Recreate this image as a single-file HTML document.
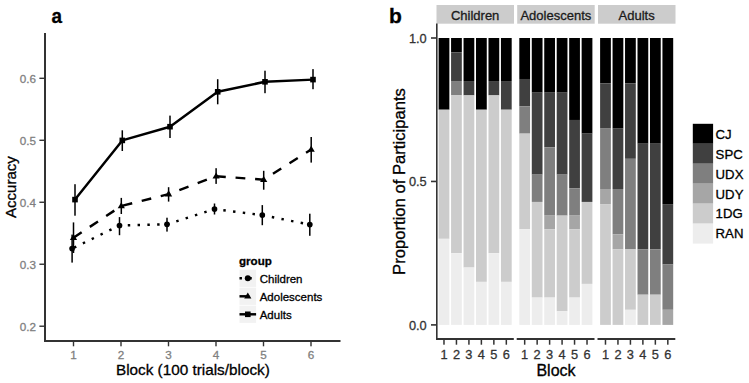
<!DOCTYPE html>
<html><head><meta charset="utf-8"><style>
html,body{margin:0;padding:0;background:#fff;width:749px;height:383px;overflow:hidden;}
body{position:relative;font-family:"Liberation Sans", sans-serif;}

</style></head><body>
<svg width="749" height="383" viewBox="0 0 749 383" style="position:absolute;left:0;top:0">
<rect width="749" height="383" fill="#fff"/>
<g>
<text transform="translate(51.6,23.2) scale(0.9,1)" x="0" y="0" font-family='"Liberation Sans", sans-serif' font-weight="bold" font-size="21" fill="#000" stroke="#000" stroke-width="0.3">a</text>
<rect x="44" y="33" width="2" height="309" fill="#333333"/>
<rect x="44" y="340" width="296.5" height="2" fill="#333333"/>
<rect x="39.4" y="325.52" width="4.8" height="1.4" fill="#333333"/>
<text x="36.1" y="330.92" text-anchor="end" font-family='"Liberation Sans", sans-serif' font-size="11.7" fill="#7f7f7f" stroke="#7f7f7f" stroke-width="0.3">0.2</text>
<rect x="39.4" y="263.54" width="4.8" height="1.4" fill="#333333"/>
<text x="36.1" y="268.94" text-anchor="end" font-family='"Liberation Sans", sans-serif' font-size="11.7" fill="#7f7f7f" stroke="#7f7f7f" stroke-width="0.3">0.3</text>
<rect x="39.4" y="201.56" width="4.8" height="1.4" fill="#333333"/>
<text x="36.1" y="206.96" text-anchor="end" font-family='"Liberation Sans", sans-serif' font-size="11.7" fill="#7f7f7f" stroke="#7f7f7f" stroke-width="0.3">0.4</text>
<rect x="39.4" y="139.58" width="4.8" height="1.4" fill="#333333"/>
<text x="36.1" y="144.98" text-anchor="end" font-family='"Liberation Sans", sans-serif' font-size="11.7" fill="#7f7f7f" stroke="#7f7f7f" stroke-width="0.3">0.5</text>
<rect x="39.4" y="77.60" width="4.8" height="1.4" fill="#333333"/>
<text x="36.1" y="83.00" text-anchor="end" font-family='"Liberation Sans", sans-serif' font-size="11.7" fill="#7f7f7f" stroke="#7f7f7f" stroke-width="0.3">0.6</text>
<rect x="72.80" y="342" width="1.4" height="4.3" fill="#333333"/>
<text x="73.50" y="358.7" text-anchor="middle" font-family='"Liberation Sans", sans-serif' font-size="11.7" fill="#7f7f7f" stroke="#7f7f7f" stroke-width="0.3">1</text>
<rect x="120.30" y="342" width="1.4" height="4.3" fill="#333333"/>
<text x="121.00" y="358.7" text-anchor="middle" font-family='"Liberation Sans", sans-serif' font-size="11.7" fill="#7f7f7f" stroke="#7f7f7f" stroke-width="0.3">2</text>
<rect x="167.80" y="342" width="1.4" height="4.3" fill="#333333"/>
<text x="168.50" y="358.7" text-anchor="middle" font-family='"Liberation Sans", sans-serif' font-size="11.7" fill="#7f7f7f" stroke="#7f7f7f" stroke-width="0.3">3</text>
<rect x="215.30" y="342" width="1.4" height="4.3" fill="#333333"/>
<text x="216.00" y="358.7" text-anchor="middle" font-family='"Liberation Sans", sans-serif' font-size="11.7" fill="#7f7f7f" stroke="#7f7f7f" stroke-width="0.3">4</text>
<rect x="262.80" y="342" width="1.4" height="4.3" fill="#333333"/>
<text x="263.50" y="358.7" text-anchor="middle" font-family='"Liberation Sans", sans-serif' font-size="11.7" fill="#7f7f7f" stroke="#7f7f7f" stroke-width="0.3">5</text>
<rect x="310.30" y="342" width="1.4" height="4.3" fill="#333333"/>
<text x="311.00" y="358.7" text-anchor="middle" font-family='"Liberation Sans", sans-serif' font-size="11.7" fill="#7f7f7f" stroke="#7f7f7f" stroke-width="0.3">6</text>
<text x="192.9" y="374.6" text-anchor="middle" font-family='"Liberation Sans", sans-serif' font-size="15.3" fill="#000" stroke="#000" stroke-width="0.3">Block (100 trials/block)</text>
<text transform="translate(16.4,187.1) rotate(-90)" x="0" y="0" text-anchor="middle" font-family='"Liberation Sans", sans-serif' font-size="15.05" fill="#000" stroke="#000" stroke-width="0.3">Accuracy</text>
<polyline points="75,199.6 122.3,140.4 170,126.7 217.7,91.8 265,81.8 313,79.6" fill="none" stroke="#000" stroke-width="2.45" stroke-linejoin="round"/>
<polyline points="73.5,237.7 121.3,206 168.6,194.1 216.1,176.2 263.7,179.7 311.2,149.5" fill="none" stroke="#000" stroke-width="2.45" stroke-dasharray="9.8 9.8"/>
<polyline points="72.1,248.6 119.5,225.5 167,224.3 214.5,209.1 262.3,215.1 309.8,224.6" fill="none" stroke="#000" stroke-width="2.45" stroke-dasharray="2.45 7.35" stroke-dashoffset="-2.2"/>
<rect x="74.25" y="184.20" width="1.5" height="31.50" fill="#000"/>
<rect x="121.55" y="130.30" width="1.5" height="20.70" fill="#000"/>
<rect x="169.25" y="115.60" width="1.5" height="22.40" fill="#000"/>
<rect x="216.95" y="79.20" width="1.5" height="25.10" fill="#000"/>
<rect x="264.25" y="70.70" width="1.5" height="22.50" fill="#000"/>
<rect x="312.25" y="69.10" width="1.5" height="20.10" fill="#000"/>
<rect x="72.75" y="222.40" width="1.5" height="30.60" fill="#000"/>
<rect x="120.55" y="197.90" width="1.5" height="16.10" fill="#000"/>
<rect x="167.85" y="187.20" width="1.5" height="14.40" fill="#000"/>
<rect x="215.35" y="168.20" width="1.5" height="15.70" fill="#000"/>
<rect x="262.95" y="170.80" width="1.5" height="18.90" fill="#000"/>
<rect x="310.45" y="137.00" width="1.5" height="25.60" fill="#000"/>
<rect x="71.35" y="234.60" width="1.5" height="28.00" fill="#000"/>
<rect x="118.75" y="217.10" width="1.5" height="18.10" fill="#000"/>
<rect x="166.25" y="217.70" width="1.5" height="13.90" fill="#000"/>
<rect x="213.75" y="203.50" width="1.5" height="11.00" fill="#000"/>
<rect x="261.55" y="205.10" width="1.5" height="20.10" fill="#000"/>
<rect x="309.05" y="213.70" width="1.5" height="22.10" fill="#000"/>
<rect x="72.20" y="196.80" width="5.6" height="5.6" fill="#000"/>
<rect x="119.50" y="137.60" width="5.6" height="5.6" fill="#000"/>
<rect x="167.20" y="123.90" width="5.6" height="5.6" fill="#000"/>
<rect x="214.90" y="89.00" width="5.6" height="5.6" fill="#000"/>
<rect x="262.20" y="79.00" width="5.6" height="5.6" fill="#000"/>
<rect x="310.20" y="76.80" width="5.6" height="5.6" fill="#000"/>
<polygon points="73.50,233.90 77.10,240.00 69.90,240.00" fill="#000"/>
<polygon points="121.30,202.20 124.90,208.30 117.70,208.30" fill="#000"/>
<polygon points="168.60,190.30 172.20,196.40 165.00,196.40" fill="#000"/>
<polygon points="216.10,172.40 219.70,178.50 212.50,178.50" fill="#000"/>
<polygon points="263.70,175.90 267.30,182.00 260.10,182.00" fill="#000"/>
<polygon points="311.20,145.70 314.80,151.80 307.60,151.80" fill="#000"/>
<circle cx="72.10" cy="248.60" r="2.85" fill="#000"/>
<circle cx="119.50" cy="225.50" r="2.85" fill="#000"/>
<circle cx="167.00" cy="224.30" r="2.85" fill="#000"/>
<circle cx="214.50" cy="209.10" r="2.85" fill="#000"/>
<circle cx="262.30" cy="215.10" r="2.85" fill="#000"/>
<circle cx="309.80" cy="224.60" r="2.85" fill="#000"/>
<text x="239" y="264.6" font-family='"Liberation Sans", sans-serif' font-weight="bold" font-size="11.6" fill="#000" stroke="#000" stroke-width="0.3">group</text>
<rect x="239.5" y="269.70" width="16.6" height="17.2" fill="#f2f2f2"/>
<line x1="239.5" y1="278.3" x2="256.1" y2="278.3" stroke="#000" stroke-width="2.45" stroke-dasharray="2.45 7.35"/>
<circle cx="247.8" cy="278.3" r="3" fill="#000"/>
<text x="259.7" y="282.90" font-family='"Liberation Sans", sans-serif' font-size="11.5" fill="#000" stroke="#000" stroke-width="0.3">Children</text>
<rect x="239.5" y="287.70" width="16.6" height="17.2" fill="#f2f2f2"/>
<line x1="239.5" y1="296.3" x2="256.1" y2="296.3" stroke="#000" stroke-width="2.45" stroke-dasharray="9.8 9.8"/>
<polygon points="247.8,292.5 251.4,298.6 244.2,298.6" fill="#000"/>
<text x="259.7" y="300.90" font-family='"Liberation Sans", sans-serif' font-size="11.5" fill="#000" stroke="#000" stroke-width="0.3">Adolescents</text>
<rect x="239.5" y="305.70" width="16.6" height="17.2" fill="#f2f2f2"/>
<line x1="239.5" y1="314.3" x2="256.1" y2="314.3" stroke="#000" stroke-width="2.45"/>
<rect x="245.0" y="311.5" width="5.6" height="5.6" fill="#000"/>
<text x="259.7" y="318.90" font-family='"Liberation Sans", sans-serif' font-size="11.5" fill="#000" stroke="#000" stroke-width="0.3">Adults</text>
<text x="389.0" y="23.2" font-family='"Liberation Sans", sans-serif' font-weight="bold" font-size="21" fill="#000" stroke="#000" stroke-width="0.3">b</text>
<rect x="436.50" y="5" width="77.50" height="18.7" fill="#cccccc"/>
<text x="475.15" y="19.6" text-anchor="middle" font-family='"Liberation Sans", sans-serif' font-size="13" fill="#1a1a1a" stroke="#1a1a1a" stroke-width="0.3">Children</text>
<rect x="438.61" y="38.00" width="10.75" height="71.72" fill="#000000"/>
<rect x="438.61" y="109.72" width="10.75" height="129.10" fill="#cccccc"/>
<rect x="438.61" y="238.83" width="10.75" height="86.07" fill="#ededed"/>
<rect x="443.23" y="340" width="1.5" height="4.7" fill="#333333"/>
<text x="443.98" y="359" text-anchor="middle" font-family='"Liberation Sans", sans-serif' font-size="12.8" fill="#333333" stroke="#333333" stroke-width="0.3">1</text>
<rect x="451.07" y="38.00" width="10.75" height="14.35" fill="#000000"/>
<rect x="451.07" y="52.35" width="10.75" height="28.69" fill="#404040"/>
<rect x="451.07" y="81.03" width="10.75" height="14.34" fill="#7f7f7f"/>
<rect x="451.07" y="95.38" width="10.75" height="157.80" fill="#cccccc"/>
<rect x="451.07" y="253.17" width="10.75" height="71.72" fill="#ededed"/>
<rect x="455.70" y="340" width="1.5" height="4.7" fill="#333333"/>
<text x="456.45" y="359" text-anchor="middle" font-family='"Liberation Sans", sans-serif' font-size="12.8" fill="#333333" stroke="#333333" stroke-width="0.3">2</text>
<rect x="463.54" y="38.00" width="10.75" height="43.03" fill="#000000"/>
<rect x="463.54" y="81.03" width="10.75" height="14.34" fill="#404040"/>
<rect x="463.54" y="95.38" width="10.75" height="172.14" fill="#cccccc"/>
<rect x="463.54" y="267.52" width="10.75" height="57.38" fill="#ededed"/>
<rect x="468.17" y="340" width="1.5" height="4.7" fill="#333333"/>
<text x="468.92" y="359" text-anchor="middle" font-family='"Liberation Sans", sans-serif' font-size="12.8" fill="#333333" stroke="#333333" stroke-width="0.3">3</text>
<rect x="476.01" y="38.00" width="10.75" height="71.72" fill="#000000"/>
<rect x="476.01" y="109.72" width="10.75" height="172.14" fill="#cccccc"/>
<rect x="476.01" y="281.87" width="10.75" height="43.03" fill="#ededed"/>
<rect x="480.63" y="340" width="1.5" height="4.7" fill="#333333"/>
<text x="481.38" y="359" text-anchor="middle" font-family='"Liberation Sans", sans-serif' font-size="12.8" fill="#333333" stroke="#333333" stroke-width="0.3">4</text>
<rect x="488.48" y="38.00" width="10.75" height="43.03" fill="#000000"/>
<rect x="488.48" y="81.03" width="10.75" height="14.34" fill="#404040"/>
<rect x="488.48" y="95.38" width="10.75" height="157.80" fill="#cccccc"/>
<rect x="488.48" y="253.17" width="10.75" height="71.72" fill="#ededed"/>
<rect x="493.10" y="340" width="1.5" height="4.7" fill="#333333"/>
<text x="493.85" y="359" text-anchor="middle" font-family='"Liberation Sans", sans-serif' font-size="12.8" fill="#333333" stroke="#333333" stroke-width="0.3">5</text>
<rect x="500.94" y="38.00" width="10.75" height="43.03" fill="#000000"/>
<rect x="500.94" y="81.03" width="10.75" height="28.69" fill="#404040"/>
<rect x="500.94" y="109.72" width="10.75" height="172.14" fill="#cccccc"/>
<rect x="500.94" y="281.87" width="10.75" height="43.03" fill="#ededed"/>
<rect x="505.57" y="340" width="1.5" height="4.7" fill="#333333"/>
<text x="506.32" y="359" text-anchor="middle" font-family='"Liberation Sans", sans-serif' font-size="12.8" fill="#333333" stroke="#333333" stroke-width="0.3">6</text>
<rect x="436.00" y="338" width="77.80" height="2" fill="#333333"/>
<rect x="517.20" y="5" width="77.50" height="18.7" fill="#cccccc"/>
<text x="555.85" y="19.6" text-anchor="middle" font-family='"Liberation Sans", sans-serif' font-size="13" fill="#1a1a1a" stroke="#1a1a1a" stroke-width="0.3">Adolescents</text>
<rect x="519.31" y="38.00" width="10.75" height="40.99" fill="#000000"/>
<rect x="519.31" y="78.99" width="10.75" height="27.32" fill="#404040"/>
<rect x="519.31" y="106.31" width="10.75" height="27.32" fill="#7f7f7f"/>
<rect x="519.31" y="133.63" width="10.75" height="95.63" fill="#cccccc"/>
<rect x="519.31" y="229.27" width="10.75" height="95.63" fill="#ededed"/>
<rect x="523.93" y="340" width="1.5" height="4.7" fill="#333333"/>
<text x="524.68" y="359" text-anchor="middle" font-family='"Liberation Sans", sans-serif' font-size="12.8" fill="#333333" stroke="#333333" stroke-width="0.3">1</text>
<rect x="531.77" y="38.00" width="10.75" height="54.65" fill="#000000"/>
<rect x="531.77" y="92.65" width="10.75" height="81.97" fill="#404040"/>
<rect x="531.77" y="174.62" width="10.75" height="27.32" fill="#7f7f7f"/>
<rect x="531.77" y="201.94" width="10.75" height="95.63" fill="#cccccc"/>
<rect x="531.77" y="297.58" width="10.75" height="27.32" fill="#ededed"/>
<rect x="536.40" y="340" width="1.5" height="4.7" fill="#333333"/>
<text x="537.15" y="359" text-anchor="middle" font-family='"Liberation Sans", sans-serif' font-size="12.8" fill="#333333" stroke="#333333" stroke-width="0.3">2</text>
<rect x="544.24" y="38.00" width="10.75" height="54.65" fill="#000000"/>
<rect x="544.24" y="92.65" width="10.75" height="54.65" fill="#404040"/>
<rect x="544.24" y="147.30" width="10.75" height="68.31" fill="#7f7f7f"/>
<rect x="544.24" y="215.60" width="10.75" height="13.66" fill="#a6a6a6"/>
<rect x="544.24" y="229.27" width="10.75" height="68.31" fill="#cccccc"/>
<rect x="544.24" y="297.58" width="10.75" height="27.32" fill="#ededed"/>
<rect x="548.87" y="340" width="1.5" height="4.7" fill="#333333"/>
<text x="549.62" y="359" text-anchor="middle" font-family='"Liberation Sans", sans-serif' font-size="12.8" fill="#333333" stroke="#333333" stroke-width="0.3">3</text>
<rect x="556.71" y="38.00" width="10.75" height="54.65" fill="#000000"/>
<rect x="556.71" y="92.65" width="10.75" height="81.97" fill="#404040"/>
<rect x="556.71" y="174.62" width="10.75" height="40.99" fill="#7f7f7f"/>
<rect x="556.71" y="215.60" width="10.75" height="95.63" fill="#cccccc"/>
<rect x="556.71" y="311.24" width="10.75" height="13.66" fill="#ededed"/>
<rect x="561.33" y="340" width="1.5" height="4.7" fill="#333333"/>
<text x="562.08" y="359" text-anchor="middle" font-family='"Liberation Sans", sans-serif' font-size="12.8" fill="#333333" stroke="#333333" stroke-width="0.3">4</text>
<rect x="569.18" y="38.00" width="10.75" height="81.97" fill="#000000"/>
<rect x="569.18" y="119.97" width="10.75" height="68.31" fill="#404040"/>
<rect x="569.18" y="188.28" width="10.75" height="27.32" fill="#7f7f7f"/>
<rect x="569.18" y="215.60" width="10.75" height="13.66" fill="#a6a6a6"/>
<rect x="569.18" y="229.27" width="10.75" height="68.31" fill="#cccccc"/>
<rect x="569.18" y="297.58" width="10.75" height="27.32" fill="#ededed"/>
<rect x="573.80" y="340" width="1.5" height="4.7" fill="#333333"/>
<text x="574.55" y="359" text-anchor="middle" font-family='"Liberation Sans", sans-serif' font-size="12.8" fill="#333333" stroke="#333333" stroke-width="0.3">5</text>
<rect x="581.64" y="38.00" width="10.75" height="95.63" fill="#000000"/>
<rect x="581.64" y="133.63" width="10.75" height="68.31" fill="#404040"/>
<rect x="581.64" y="201.94" width="10.75" height="81.97" fill="#cccccc"/>
<rect x="581.64" y="283.91" width="10.75" height="40.99" fill="#ededed"/>
<rect x="586.27" y="340" width="1.5" height="4.7" fill="#333333"/>
<text x="587.02" y="359" text-anchor="middle" font-family='"Liberation Sans", sans-serif' font-size="12.8" fill="#333333" stroke="#333333" stroke-width="0.3">6</text>
<rect x="516.70" y="338" width="77.80" height="2" fill="#333333"/>
<rect x="598.00" y="5" width="77.50" height="18.7" fill="#cccccc"/>
<text x="636.65" y="19.6" text-anchor="middle" font-family='"Liberation Sans", sans-serif' font-size="13" fill="#1a1a1a" stroke="#1a1a1a" stroke-width="0.3">Adults</text>
<rect x="600.11" y="38.00" width="10.75" height="45.30" fill="#000000"/>
<rect x="600.11" y="83.30" width="10.75" height="45.30" fill="#404040"/>
<rect x="600.11" y="128.60" width="10.75" height="60.40" fill="#7f7f7f"/>
<rect x="600.11" y="189.00" width="10.75" height="15.10" fill="#a6a6a6"/>
<rect x="600.11" y="204.10" width="10.75" height="120.80" fill="#cccccc"/>
<rect x="604.73" y="340" width="1.5" height="4.7" fill="#333333"/>
<text x="605.48" y="359" text-anchor="middle" font-family='"Liberation Sans", sans-serif' font-size="12.8" fill="#333333" stroke="#333333" stroke-width="0.3">1</text>
<rect x="612.57" y="38.00" width="10.75" height="90.60" fill="#000000"/>
<rect x="612.57" y="128.60" width="10.75" height="60.40" fill="#404040"/>
<rect x="612.57" y="189.00" width="10.75" height="45.30" fill="#7f7f7f"/>
<rect x="612.57" y="234.30" width="10.75" height="15.10" fill="#a6a6a6"/>
<rect x="612.57" y="249.40" width="10.75" height="75.50" fill="#cccccc"/>
<rect x="617.20" y="340" width="1.5" height="4.7" fill="#333333"/>
<text x="617.95" y="359" text-anchor="middle" font-family='"Liberation Sans", sans-serif' font-size="12.8" fill="#333333" stroke="#333333" stroke-width="0.3">2</text>
<rect x="625.04" y="38.00" width="10.75" height="45.30" fill="#000000"/>
<rect x="625.04" y="83.30" width="10.75" height="75.50" fill="#404040"/>
<rect x="625.04" y="158.80" width="10.75" height="90.60" fill="#7f7f7f"/>
<rect x="625.04" y="249.40" width="10.75" height="60.40" fill="#cccccc"/>
<rect x="625.04" y="309.80" width="10.75" height="15.10" fill="#ededed"/>
<rect x="629.67" y="340" width="1.5" height="4.7" fill="#333333"/>
<text x="630.42" y="359" text-anchor="middle" font-family='"Liberation Sans", sans-serif' font-size="12.8" fill="#333333" stroke="#333333" stroke-width="0.3">3</text>
<rect x="637.51" y="38.00" width="10.75" height="105.70" fill="#000000"/>
<rect x="637.51" y="143.70" width="10.75" height="105.70" fill="#404040"/>
<rect x="637.51" y="249.40" width="10.75" height="45.30" fill="#7f7f7f"/>
<rect x="637.51" y="294.70" width="10.75" height="30.20" fill="#cccccc"/>
<rect x="642.13" y="340" width="1.5" height="4.7" fill="#333333"/>
<text x="642.88" y="359" text-anchor="middle" font-family='"Liberation Sans", sans-serif' font-size="12.8" fill="#333333" stroke="#333333" stroke-width="0.3">4</text>
<rect x="649.98" y="38.00" width="10.75" height="105.70" fill="#000000"/>
<rect x="649.98" y="143.70" width="10.75" height="105.70" fill="#404040"/>
<rect x="649.98" y="249.40" width="10.75" height="45.30" fill="#7f7f7f"/>
<rect x="649.98" y="294.70" width="10.75" height="30.20" fill="#cccccc"/>
<rect x="654.60" y="340" width="1.5" height="4.7" fill="#333333"/>
<text x="655.35" y="359" text-anchor="middle" font-family='"Liberation Sans", sans-serif' font-size="12.8" fill="#333333" stroke="#333333" stroke-width="0.3">5</text>
<rect x="662.44" y="38.00" width="10.75" height="166.10" fill="#000000"/>
<rect x="662.44" y="204.10" width="10.75" height="60.40" fill="#404040"/>
<rect x="662.44" y="264.50" width="10.75" height="45.30" fill="#7f7f7f"/>
<rect x="662.44" y="309.80" width="10.75" height="15.10" fill="#a6a6a6"/>
<rect x="667.07" y="340" width="1.5" height="4.7" fill="#333333"/>
<text x="667.82" y="359" text-anchor="middle" font-family='"Liberation Sans", sans-serif' font-size="12.8" fill="#333333" stroke="#333333" stroke-width="0.3">6</text>
<rect x="597.50" y="338" width="77.80" height="2" fill="#333333"/>
<rect x="436" y="23.5" width="1.6" height="316.5" fill="#333333"/>
<rect x="431" y="37.20" width="5" height="1.6" fill="#333333"/>
<text x="426.7" y="42.60" text-anchor="end" font-family='"Liberation Sans", sans-serif' font-size="12.8" fill="#333333" stroke="#333333" stroke-width="0.3">1.0</text>
<rect x="431" y="180.65" width="5" height="1.6" fill="#333333"/>
<text x="426.7" y="186.05" text-anchor="end" font-family='"Liberation Sans", sans-serif' font-size="12.8" fill="#333333" stroke="#333333" stroke-width="0.3">0.5</text>
<rect x="431" y="324.10" width="5" height="1.6" fill="#333333"/>
<text x="426.7" y="329.50" text-anchor="end" font-family='"Liberation Sans", sans-serif' font-size="12.8" fill="#333333" stroke="#333333" stroke-width="0.3">0.0</text>
<text x="556" y="375.7" text-anchor="middle" font-family='"Liberation Sans", sans-serif' font-size="16" fill="#000" stroke="#000" stroke-width="0.3">Block</text>
<text transform="translate(404.8,181.5) rotate(-90)" x="0" y="0" text-anchor="middle" font-family='"Liberation Sans", sans-serif' font-size="16.65" fill="#000" stroke="#000" stroke-width="0.3">Proportion of Participants</text>
<rect x="692.8" y="123.80" width="20.3" height="19.97" fill="#000000"/>
<text x="715.6" y="138.60" font-family='"Liberation Sans", sans-serif' font-size="13.2" fill="#000" stroke="#000" stroke-width="0.3">CJ</text>
<rect x="692.8" y="143.77" width="20.3" height="19.97" fill="#404040"/>
<text x="715.6" y="158.57" font-family='"Liberation Sans", sans-serif' font-size="13.2" fill="#000" stroke="#000" stroke-width="0.3">SPC</text>
<rect x="692.8" y="163.74" width="20.3" height="19.97" fill="#7f7f7f"/>
<text x="715.6" y="178.54" font-family='"Liberation Sans", sans-serif' font-size="13.2" fill="#000" stroke="#000" stroke-width="0.3">UDX</text>
<rect x="692.8" y="183.71" width="20.3" height="19.97" fill="#a6a6a6"/>
<text x="715.6" y="198.51" font-family='"Liberation Sans", sans-serif' font-size="13.2" fill="#000" stroke="#000" stroke-width="0.3">UDY</text>
<rect x="692.8" y="203.68" width="20.3" height="19.97" fill="#cccccc"/>
<text x="715.6" y="218.48" font-family='"Liberation Sans", sans-serif' font-size="13.2" fill="#000" stroke="#000" stroke-width="0.3">1DG</text>
<rect x="692.8" y="223.65" width="20.3" height="19.97" fill="#ededed"/>
<text x="715.6" y="238.45" font-family='"Liberation Sans", sans-serif' font-size="13.2" fill="#000" stroke="#000" stroke-width="0.3">RAN</text>
</g>
</svg>
</body></html>
